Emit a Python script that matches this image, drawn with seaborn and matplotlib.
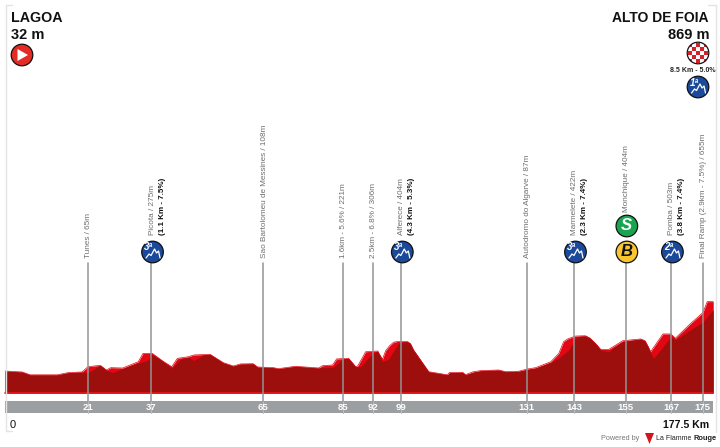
import matplotlib
matplotlib.use('Agg')
import matplotlib.pyplot as plt
from matplotlib.patches import Circle, Rectangle
import pandas as pd
import seaborn as sns

# elevation profile (km, metres)
profile_km = [0, 3.0, 4.3, 6.3, 13.1, 15.8, 19.3, 20.8, 23.9, 25.4, 26.5, 29.5, 33.4, 34.6, 36.9, 39.8, 41.8, 43.2,
              46.0, 47.3, 51.4, 54.7, 57.2, 59.0, 62.2, 63.3, 67.3, 68.5, 72.8, 78.6, 79.6, 82.1, 83.1, 86.1, 87.9,
              88.4, 90.4, 93.4, 94.6, 95.4, 96.4, 97.4, 98.4, 100.9, 101.6, 102.4, 106.2, 110.9, 111.4, 114.7, 115.4,
              117.4, 119.2, 123.7, 125.5, 128.7, 131, 133, 136.8, 138.8, 140, 141, 143, 145.5, 146.6, 148, 149.3,
              151.3, 152.4, 154.8, 159.3, 160.4, 161.2, 161.8, 164.9, 166.9, 168, 171.9, 174.9, 176, 177.5]
profile_m = [46, 38, 35, 2, 2, 27, 35, 96, 112, 58, 85, 81, 154, 251, 251, 154, 96, 193,
             212, 232, 240, 143, 104, 128, 131, 93, 85, 73, 101, 81, 108, 116, 186, 194, 96,
             104, 270, 278, 182, 282, 340, 380, 389, 387, 365, 290, 38, 2, 28, 31, 4,
             38, 50, 58, 38, 43, 70, 85, 154, 251, 386, 418, 452, 455, 429, 367, 297,
             297, 328, 397, 418, 398, 328, 270, 476, 476, 426, 600, 723, 851, 851]

# darker face of the relief, lower than the profile on the climbs
shade_km = [0, 3.0, 4.3, 6.3, 13.1, 15.8, 19.3, 20.8, 23.2, 23.9, 25.4, 26.9, 29.5, 33.4, 35.6, 36.9, 39.8, 41.8,
            44.0, 46.0, 47.3, 49.6, 51.4, 54.7, 57.2, 59.0, 62.2, 63.3, 67.3, 68.5, 72.8, 78.6, 79.3, 82.1, 83.3,
            84.6, 86.1, 87.9, 89.1, 92.1, 93.4, 94.6, 96.1, 98.6, 100.0, 100.9, 101.6, 102.4, 106.2, 110.9, 111.4,
            114.7, 115.4, 117.4, 119.2, 123.7, 125.5, 128.7, 131, 133, 136.8, 138.8, 141.3, 143, 144, 145.5, 146.6,
            148, 149.3, 151.3, 152.4, 154.8, 159.3, 160.4, 161.2, 161.8, 162.6, 166.9, 168, 172.4, 174.9, 177.5]
shade_m = [46, 38, 35, 2, 2, 27, 35, 27, 96, 112, 58, 27, 75, 139, 166, 240, 154, 78,
           182, 205, 166, 232, 240, 143, 104, 128, 131, 93, 85, 73, 101, 81, 85, 85, 128,
           186, 194, 96, 96, 251, 278, 154, 182, 368, 385, 387, 365, 290, 38, 2, 28,
           31, 4, 30, 50, 58, 38, 43, 65, 80, 145, 197, 290, 429, 450, 455, 429,
           367, 290, 270, 310, 386, 418, 398, 328, 255, 193, 445, 406, 541, 615, 754]

# passages along the route
pass_km = [20.8, 36.6, 64.7, 84.7, 92.2, 99.2, 130.8, 142.6, 155.6, 166.9, 174.9]
pass_ticks = ['21', '37', '65', '85', '92', '99', '131', '143', '155', '167', '175']
pass_names = ['Tunes / 65m', 'Picota / 275m', 'Sao Bartolomeu de Messines / 108m', '1.6km - 5.6% / 221m',
              '2.5km - 6.8% / 306m', 'Alferece / 404m', 'Autodromo do Algarve / 87m', 'Marmelete / 422m',
              'Monchique / 404m', 'Pomba / 503m', 'Final Ramp (2.9km - 7.5%) / 655m']
pass_climbs = ['', '(1.1 Km - 7.5%)', '', '', '', '(4.3 Km - 5.3%)', '', '(2.3 Km - 7.4%)', '', '(3.8 Km - 7.4%)', '']
pass_cats = ['', '3', '', '', '', '3', '', '3', '', '2', '']

sns.set_theme(style='white')
plt.rcParams['font.family'] = ['Liberation Sans', 'DejaVu Sans']

KM_PX = 3.99
M_PX = 11.6


def xp(km):
    return 5 + km * KM_PX


def ym(px):
    # picture row to metres
    return (375 - px) * M_PX


fig = plt.figure(figsize=(7.2, 4.47), dpi=100)
ax = fig.add_axes([0, 0, 1, 1])
ax.set_xlim(-5 / KM_PX, 715 / KM_PX)
ax.set_ylim(ym(447), ym(0))

df = pd.DataFrame({'km': profile_km, 'm': profile_m})
base = ym(393)
ax.fill_between(profile_km, base, profile_m, color='#e30613', lw=0, zorder=2)
ax.fill_between(shade_km, base, shade_m, color='#9c0f0d', lw=0, zorder=3)
sns.lineplot(data=df, x='km', y='m', ax=ax, color='#e30613', lw=0.5, sort=False, zorder=3)
ax.axis('off')
ax.plot([0, 177.5], [base, base], color='#e8141c', lw=1.2, zorder=4)

# grey km band
ax.add_patch(Rectangle((0, ym(413)), 177.5, ym(401) - ym(413), color='#9b9fa1', lw=0, zorder=1))

# pixel overlay for the header, the labels and the icons
ov = fig.add_axes([0, 0, 1, 1], facecolor='none')
ov.set_xlim(0, 720)
ov.set_ylim(447, 0)
ov.axis('off')

# frame marks
ov.plot([5.5, 5.5], [5, 431], color='#e4e4e4', lw=1)
ov.plot([5.5, 12], [5, 5], color='#e4e4e4', lw=1)
ov.plot([5.5, 12], [431, 431], color='#e4e4e4', lw=1)
ov.plot([715.5, 715.5], [5, 432], color='#e4e4e4', lw=1)
ov.plot([708, 715.5], [5, 5], color='#e4e4e4', lw=1)


def mountain(x, y, cat):
    ov.add_patch(Circle((x, y), 10.8, fc='#1b4a9b', ec='#111111', lw=0.9, zorder=6))
    ov.plot([x - 6.5, x - 3.5, x - 1.5, x + 2, x + 4, x + 6, x + 7.5], [y + 6, y + 2, y + 3.5, y - 3, y + 1, y - 1, y + 6],
            color='white', lw=0.9, zorder=7)
    ov.text(x - 4, y - 4.5, cat + 'ª', color='white', fontsize=7, fontweight='bold', fontstyle='italic',
            ha='center', va='center', zorder=7)


for km, tick, name, climb, cat in zip(pass_km, pass_ticks, pass_names, pass_climbs, pass_cats):
    x = xp(km)
    if name.startswith('Monchique'):
        top, bottom = 262, 212
    elif cat:
        top, bottom = 262, 235
    else:
        top, bottom = 263, 258
    ax.plot([km, km], [ym(top), ym(401)], color='#949494', lw=1.1, zorder=5)
    ax.plot([km, km], [ym(401), ym(413)], color='#b9bcbd', lw=0.8, zorder=1.5)
    ov.text(x, 407.5, tick, color='white', fontsize=6.8, fontweight='bold', ha='center', va='center')
    ov.text(x + 1, bottom, name, color='#6e6e6e', fontsize=5.85, rotation=90, ha='center', va='bottom')
    if climb:
        ov.text(x + 11, bottom, climb, color='#111111', fontsize=5.8, fontweight='bold', rotation=90,
                ha='center', va='bottom')
    if cat:
        mountain(x + 1.5, 252, cat)

# sprint and bonus at Monchique
sx = xp(pass_km[8]) + 1
ov.add_patch(Circle((sx, 226), 10.8, fc='#17a550', ec='#111111', lw=0.9, zorder=6))
ov.text(sx, 226, 'S', color='white', fontsize=12, fontweight='bold', fontstyle='italic', ha='center', va='center', zorder=7)
ov.add_patch(Circle((sx, 252), 10.8, fc='#fbc52d', ec='#111111', lw=0.9, zorder=6))
ov.text(sx, 252, 'B', color='#111111', fontsize=12, fontweight='bold', fontstyle='italic', ha='center', va='center', zorder=7)

# header
ov.text(11, 18, 'LAGOA', color='#111111', fontsize=10.3, fontweight='bold', ha='left', va='center')
ov.text(11, 35, '32 m', color='#111111', fontsize=10.5, fontweight='bold', ha='left', va='center')
ov.text(709, 18, 'ALTO DE FOIA', color='#111111', fontsize=10, fontweight='bold', ha='right', va='center')
ov.text(709, 35, '869 m', color='#111111', fontsize=10.5, fontweight='bold', ha='right', va='center')

# start icon
ov.add_patch(Circle((22, 55), 10.8, fc='#e52b25', ec='#111111', lw=0.9))
ov.fill([17.5, 17.5, 28], [49, 61, 55], color='white', lw=0, zorder=6)

# summit icons
clip = Circle((698, 53), 10.8, fc='white', ec='none')
ov.add_patch(clip)
for i in range(-3, 4):
    for j in range(-3, 4):
        if (i + j) % 2 == 0:
            sq = Rectangle((698 + i * 4 - 2, 53 + j * 4 - 2), 4, 4, fc='#d3202a', lw=0, zorder=3)
            ov.add_patch(sq)
            sq.set_clip_path(clip)
ov.add_patch(Circle((698, 53), 10.8, fc='none', ec='#111111', lw=0.9, zorder=4))
ov.text(693, 71, '8.5 Km - 5.0%', color='#222222', fontsize=5, fontweight='bold', ha='center', va='center')
mountain(698, 87, '1')

# footer
ov.text(13, 425, '0', color='#111111', fontsize=8, ha='center', va='center')
ov.text(709, 425, '177.5 Km', color='#111111', fontsize=7.6, fontweight='bold', ha='right', va='center')
ov.text(639, 438, 'Powered by', color='#777777', fontsize=5.2, ha='right', va='center')
ov.fill([645, 654, 649.5], [433, 433, 444], color='#d3141c', lw=0)
ov.text(656, 438, 'La Flamme', color='#222222', fontsize=5, ha='left', va='center')
ov.text(717, 438, 'Rouge', color='#222222', fontsize=5.4, fontweight='bold', ha='right', va='center')

plt.savefig('out.png', dpi=100)
